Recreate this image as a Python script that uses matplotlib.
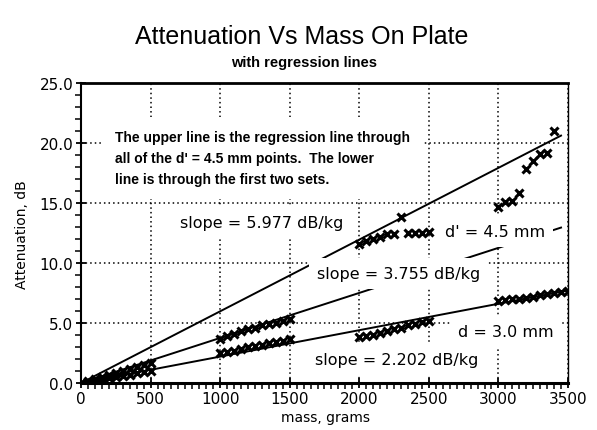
import matplotlib
matplotlib.use("Agg")
import matplotlib.pyplot as plt
import numpy as np
from matplotlib.ticker import MultipleLocator, FormatStrFormatter

# ---- data ----
mass_set1 = [0, 50, 100, 150, 200, 250, 300, 350, 400, 450, 500]
mass_set2 = [1000, 1050, 1100, 1150, 1200, 1250, 1300, 1350, 1400, 1450, 1500]
mass_set3 = [2000, 2050, 2100, 2150, 2200, 2250, 2300, 2350, 2400, 2450, 2500]
mass_set4_d3 = [3000, 3050, 3100, 3150, 3200, 3250, 3300, 3350, 3400, 3450, 3500]
mass_set4_d45 = [3000, 3050, 3100, 3150, 3200, 3250, 3300, 3350, 3400]

d3_set1 = [0.0, 0.1, 0.2, 0.3, 0.4, 0.5, 0.6, 0.7, 0.8, 0.9, 1.0]
d3_set2 = [2.5, 2.6, 2.7, 2.8, 3.0, 3.1, 3.2, 3.3, 3.4, 3.5, 3.7]
d3_set3 = [3.8, 3.9, 4.0, 4.2, 4.3, 4.5, 4.6, 4.8, 4.9, 5.1, 5.2]
d3_set4 = [6.8, 6.9, 7.0, 7.0, 7.1, 7.2, 7.3, 7.4, 7.5, 7.6, 7.7]

d45_set1 = [0.0, 0.2, 0.3, 0.5, 0.7, 0.8, 1.0, 1.2, 1.3, 1.5, 1.7]
d45_set2 = [3.7, 3.9, 4.1, 4.3, 4.5, 4.6, 4.8, 4.9, 5.0, 5.2, 5.3]
d45_set3 = [11.6, 11.8, 12.0, 12.2, 12.4, 12.4, 13.8, 12.5, 12.5, 12.5, 12.6]
d45_set4 = [14.7, 15.1, 15.2, 15.8, 17.8, 18.5, 19.1, 19.2, 21.0]

# regression lines: slope in dB/kg, extent in grams
reg_slopes = [5.977, 3.755, 2.202]
reg_end_mass = [3450, 3450, 3500]

x_ticks = [0, 500, 1000, 1500, 2000, 2500, 3000, 3500]
y_ticks = [0.0, 5.0, 10.0, 15.0, 20.0, 25.0]

title = "Attenuation Vs Mass On Plate"
subtitle = "with regression lines"
note = ("The upper line is the regression line through\n"
        "all of the d' = 4.5 mm points.  The lower\n"
        "line is through the first two sets.")

# ---- figure ----
fig = plt.figure(figsize=(5.97, 4.31), dpi=100)
ax = fig.add_axes([0.1357, 0.109, 0.8157, 0.696])

# regression lines
for s, xe in zip(reg_slopes, reg_end_mass):
    xs = np.array([0, xe])
    ax.plot(xs, s * xs / 1000.0, color="black", lw=1.4, zorder=3)

mk = dict(marker="x", ls="none", color="black", ms=6, mew=2.2, zorder=4)
for m, v in [(mass_set1, d3_set1), (mass_set2, d3_set2), (mass_set3, d3_set3),
             (mass_set4_d3, d3_set4)]:
    ax.plot(m, v, **mk)
for m, v in [(mass_set1, d45_set1), (mass_set2, d45_set2), (mass_set3, d45_set3),
             (mass_set4_d45, d45_set4)]:
    ax.plot(m, v, **mk)

ax.set_xlim(0, 3500)
ax.set_ylim(0, 25)
ax.set_xticks(x_ticks)
ax.set_yticks(y_ticks)
ax.yaxis.set_major_formatter(FormatStrFormatter("%.1f"))
ax.xaxis.set_minor_locator(MultipleLocator(50))
ax.yaxis.set_minor_locator(MultipleLocator(1))
ax.grid(which="major", linestyle=(0, (1, 2)), linewidth=1.1, color="black", zorder=1)
ax.set_axisbelow(True)

ax.tick_params(which="major", direction="inout", length=7, width=1.3,
               labelsize=11, pad=2, colors="black")
ax.tick_params(which="minor", direction="out", length=4, width=1.1)
for lab in ax.get_xticklabels() + ax.get_yticklabels():
    lab.set_family("DejaVu Sans")

ax.spines["top"].set_linewidth(2.0)
ax.spines["bottom"].set_linewidth(2.2)
ax.spines["left"].set_linewidth(1.5)
ax.spines["right"].set_linewidth(1.0)

box = dict(boxstyle="square,pad=0.5", facecolor="white", edgecolor="none")
tk = dict(family="DejaVu Sans", fontsize=11.5, color="black", zorder=5, bbox=box)

ax.text(244, 18.75, note, ha="left", va="center", family="Liberation Sans",
        fontweight="bold", fontsize=10, linespacing=1.65, zorder=5,
        bbox=dict(boxstyle="square,pad=0.9", facecolor="white", edgecolor="none"))
ax.text(711, 13.4, "slope = 5.977 dB/kg", ha="left", va="center", **tk)
ax.text(2616, 12.6, "d' = 4.5 mm", ha="left", va="center", **tk)
ax.text(1696, 9.1, "slope = 3.755 dB/kg", ha="left", va="center", **tk)
ax.text(2709, 4.33, "d = 3.0 mm", ha="left", va="center", **tk)
ax.text(1682, 2.0, "slope = 2.202 dB/kg", ha="left", va="center", **tk)

fig.text(0.506, 0.914, title, ha="center", va="center",
         family="Liberation Sans", fontsize=18)
fig.text(0.509, 0.854, subtitle, ha="center", va="center",
         family="Liberation Sans", fontweight="bold", fontsize=10.5)
fig.text(0.037, 0.455, "Attenuation, dB", rotation=90, ha="center", va="center",
         family="DejaVu Sans", fontsize=10)
fig.text(0.546, 0.030, "mass, grams", ha="center", va="center",
         family="DejaVu Sans", fontsize=10)

fig.savefig("out.png", dpi=100, facecolor="white")
